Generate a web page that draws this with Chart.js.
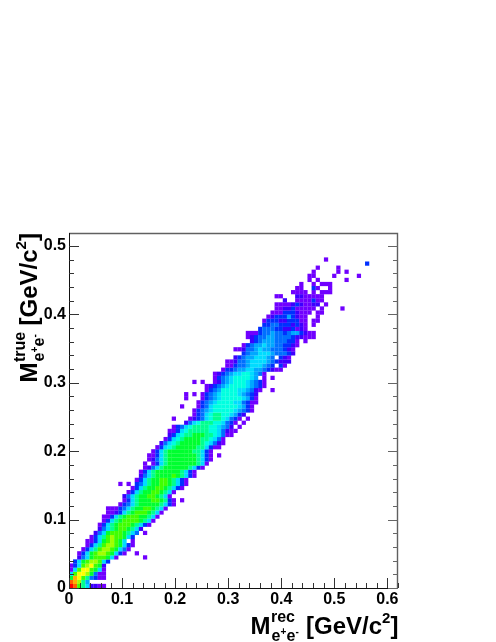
<!DOCTYPE html>
<html><head><meta charset="utf-8">
<style>html,body{margin:0;padding:0;background:#fff}canvas{display:block}</style>
<script src="https://cdn.jsdelivr.net/npm/chart.js@4"></script></head>
<body><div style="width:496px;height:642px"><canvas id="c" width="496" height="642"></canvas></div>
<script>
const xMax=0.62, yMax=0.519, xBins=80, yBins=87;
const xTicks=[0,0.1,0.2,0.3,0.4,0.5,0.6];
const yTicks=[0,0.1,0.2,0.3,0.4,0.5];
const levelColors={a:'#7000ff',b:'#3c00ff',c:'#0030ff',d:'#0070ff',e:'#00a8ff',f:'#00dcff',g:'#00ffe0',h:'#00ff90',i:'#00ff30',j:'#40ff00',k:'#a0ff00',l:'#ffff00',m:'#ffb000',n:'#ff6000',o:'#ff0000'};
// one entry per y bin, bottom to top: "first x bin:colour level per bin"
const binRows=["0:onjhfbbaa","0:nmkhe","0:imljhdcaa","0:fjllkidaa","0:afjlljifa","0:acfjkljib","1:cfijkkjfc","2:bdfijjjifa......a","2:acfijkkjifca..a","3:acfhjkkjifda",
"4:acfhjkkjifca","4:aacfijkjif.a","5:acfhjkjjifc","6:bdfijjjihfd.a","7:bdfhijjihfb","7:acfhijjjihfca","8:acfhijjjjihfa","8:aacfhijjjiihfa","9:aabcfhijjjihfa","9:aaacdfhiijjihfa",
"12:acdfhiiiiihfca","13:acfhiiijjihca.a","13:bdfhiijjihfa","14:acfhiijjihfa","15:acfhiijjihfca","12:a.a.cdfhiijjihfca","16:acfhiijjihfca","17:bdfhiiiijihfca","17:acfhiiiiiihfca","18:abdfhiiiiiihfca",
"18:a.acfhiiiiiiihfa","19:abdfhiiiiiiihfca","19:aacfhiiiiiiihfca.a","20:acfhiiiiiihhfca","21:acfghiiiiihhfcaa","22:bdfghiiiiihgfdba","23:acfghiiiihhgfda","24:bcfghhiiihhgfdaa","24:aacfghhhhhggfdbaa","25:acdfghhhhggfedb.a",
"28:bdfghhhggfdca.a","25:a...abcdfghhgfdca.a","30:acdfghhggfecb","30:acdefgggggfedca","27:a...acdfggggggfeca","31:acdefggggffdcaa","28:a...acdefgggggfeca","28:a.a.acdefggggfedcb","33:acdeggggffedba..a","33:abcdefggggfedca",
"30:a.a..abdefgggfedca","35:acdefggggfe.a.a","35:abcdeffggfeda","37:accdeeffeedcbaa","38:aacddefffedc.ca","38:aabddeffffedcbbb","40:bcdeefffed.cba","42:cdeefffedddcb","40:aabddefeedddcba","42:acdeefeeddccba",
"44:bcdeeedddcca.a","43:abcddeeddddcbbaaa","43:aaacddeddcdeecbaa","46:cdddccbbcaba","47:ccddcccbcba.a","47:acccbbcccaa.aa","48:abcccecbaa..a","49:aaacccbaaa.aa","50:aabbcaaaaa.a....a","50:aaaabcbaabb.a",
"52:b..aaaacaa","50:aa...bbaaaaa","54:aaaa.a.aaa","55:aa..ca..a","56:a..a.aaa","58:a.a......a","58:aa....a.....a","59:a.....a.a","60:a....a","72:c","62:a"];
const pts=[],cols=[];
binRows.forEach((row,r)=>{const [s,cells]=row.split(':');[...cells].forEach((ch,i)=>{if(ch==='.')return;
  const c=+s+i;
  pts.push({x:(c+.5)*xMax/xBins,y:(r+.5)*yMax/yBins});cols.push(levelColors[ch]);});});
const F='"Liberation Sans"';
function title(g,main,sup,supWidth){
  const seg=(t,x,y,s)=>{g.font='bold '+s+'px '+F;g.fillText(t,x,y);return g.measureText(t).width;};
  const w=seg('M',0,0,24);
  seg(sup,w+.5,-12,16);
  const sw=seg('e',w+1,7,16);
  seg('+',w+1+sw,1,10);seg('e',w+1+sw+6,7,16);seg('-',w+1+sw+15,1,10);
  let p=supWidth;
  p+=seg(main,p,0,24);seg('2',p,-11,15);seg(']',p+8.5,0,24);
}
const decor={id:'decor',afterDraw(ch){
  const g=ch.ctx,X=ch.scales.x,Y=ch.scales.y,A=ch.chartArea;
  g.save();g.lineWidth=1;
  g.strokeStyle='#606060';g.lineWidth=1.4;
  g.beginPath();g.moveTo(A.left,A.top+.5);g.lineTo(A.right-.5,A.top+.5);g.lineTo(A.right-.5,A.bottom);g.stroke();
  g.lineWidth=1;g.strokeStyle='#111';
  g.beginPath();g.moveTo(A.left+.5,A.top);g.lineTo(A.left+.5,A.bottom+.5);g.lineTo(A.right,A.bottom+.5);g.stroke();
  g.strokeStyle='#333';
  g.beginPath();
  for(let i=0;i<=31;i++){const v=i*0.02,p=Math.round(X.getPixelForValue(v))+.5,M=i%5===0;g.moveTo(p,A.bottom);g.lineTo(p,A.bottom-(M?10:5));}
  for(let i=0;i<=25;i++){const v=i*0.02,p=Math.round(Y.getPixelForValue(v))+.5,M=i%5===0;g.moveTo(A.left,p);g.lineTo(A.left+(M?10:5),p);}
  g.stroke();
  g.strokeStyle='#666';g.beginPath();
  for(let i=0;i<=25;i++){const v=i*0.02,p=Math.round(Y.getPixelForValue(v))+.5,M=i%5===0;g.moveTo(A.right,p);g.lineTo(A.right-(M?10:5),p);}
  g.stroke();
  g.fillStyle='#000';g.textBaseline='alphabetic';g.textAlign='left';
  g.save();g.translate(250.5,634);title(g,'[GeV/c','rec',55.5);g.restore();
  g.translate(37,382.5);g.rotate(-Math.PI/2);title(g,'[GeV/c','true',57);
  g.restore();
}};
new Chart(document.getElementById('c'),{type:'scatter',
 data:{datasets:[{data:pts,pointStyle:'rect',pointRadius:3,pointHoverRadius:3,pointBorderWidth:0,pointBackgroundColor:cols,borderWidth:0}]},
 options:{responsive:false,animation:false,
  layout:{padding:{left:0,top:233,right:98,bottom:0}},
  plugins:{legend:{display:false},tooltip:{enabled:false}},
  scales:{
   x:{type:'linear',min:0,max:xMax,afterBuildTicks(a){a.ticks=xTicks.map(v=>({value:v}));},
      grid:{display:false,tickLength:0,drawTicks:false},border:{display:false},
      ticks:{font:{family:F,weight:'bold',size:16},color:'#000',padding:2,maxRotation:0,autoSkip:false,callback:v=>v===0?'0':v.toFixed(1)},
      afterFit(s){s.height=54;}},
   y:{type:'linear',min:0,max:yMax,afterBuildTicks(a){a.ticks=yTicks.map(v=>({value:v}));},
      grid:{display:false,tickLength:0,drawTicks:false},border:{display:false},
      ticks:{font:{family:F,weight:'bold',size:16},color:'#000',padding:3,autoSkip:false,callback:v=>v===0?'0':v.toFixed(1)},
      afterFit(s){s.width=69;}}
  }},
 plugins:[decor]});
</script></body></html>
